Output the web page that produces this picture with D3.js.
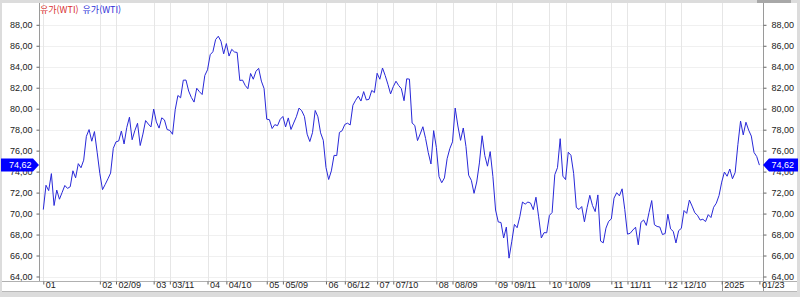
<!DOCTYPE html>
<html lang="ko">
	<head>
		<meta charset="utf-8">
		<title>유가(WTI)</title>
		<script src="https://d3js.org/d3.v7.min.js"></script>
		<style type="text/css">
			body { margin: 0; background: #dcdcdc; }
			svg { display: block; }
			.axis text { font-family: "Liberation Sans", Arial, sans-serif; font-size: 9px; fill: #222; }
			.axis line { stroke: #666; }
			.axis path { display: none; }
		</style>
	</head>
	<body>
		<script type="text/javascript">

			const w = 800;
			const h = 297;

			// closing prices, one array per month (trading days)
			const jan24 = [70.38, 72.70, 72.19, 73.81, 70.77, 72.24, 71.37, 72.02, 72.68, 72.40, 72.56, 74.08, 73.41, 74.76, 74.37, 75.09, 77.36, 78.01, 76.90, 77.82, 75.85];
			const feb24 = [73.82, 72.28, 72.78, 73.31, 73.86, 76.22, 76.84, 76.92, 77.87, 76.64, 78.20, 79.19, 77.04, 77.91, 78.61, 76.49, 77.58, 78.87, 78.54, 78.26];
			const mar24 = [79.97, 78.74, 78.15, 79.13, 78.93, 78.01, 77.93, 77.56, 79.90, 81.26, 81.04, 82.72, 82.73, 81.68, 81.07, 80.63, 81.95, 81.62, 81.35, 83.17];
			const apr24 = [83.71, 85.15, 85.43, 86.59, 86.91, 86.43, 85.23, 86.21, 85.02, 85.66, 85.41, 85.36, 82.69, 82.73, 82.22, 81.90, 83.36, 82.81, 83.57, 83.85, 82.63, 81.93];
			const may24 = [79.00, 78.95, 78.11, 78.48, 78.38, 78.99, 79.26, 78.26, 79.12, 78.02, 78.63, 79.23, 80.06, 79.80, 79.26, 77.57, 76.87, 77.72, 79.83, 79.23, 77.70, 76.99];
			const jun24 = [74.40, 73.25, 74.07, 75.55, 75.53, 77.74, 77.90, 78.50, 78.62, 78.45, 80.33, 80.80, 81.20, 80.73, 81.63, 80.83, 80.90, 81.74, 81.54];
			const jul24 = [83.38, 82.81, 83.88, 83.16, 82.33, 81.41, 82.10, 82.62, 82.21, 81.91, 80.76, 82.85, 82.82, 78.63, 78.40, 76.96, 77.59, 78.28, 77.16, 75.81, 74.73, 77.91];
			const aug24 = [76.31, 73.52, 72.94, 73.40, 75.23, 76.19, 76.84, 80.06, 78.35, 76.98, 78.16, 76.40, 73.66, 73.17, 71.93, 73.01, 74.83, 77.42, 75.53, 74.52, 75.91, 73.55];
			const sep24 = [70.34, 69.20, 69.15, 67.67, 68.71, 65.75, 67.31, 68.97, 68.65, 69.70, 71.10, 70.90, 71.10, 71.00, 70.37, 71.56, 69.69, 67.67, 68.18, 68.17];
			const oct24 = [69.83, 70.10, 73.71, 74.38, 77.14, 73.57, 73.24, 75.85, 75.56, 73.83, 70.58, 70.39, 70.67, 69.22, 70.56, 71.74, 70.77, 70.19, 71.78, 67.38, 67.21, 68.61, 69.26];
			const nov24 = [69.49, 71.47, 71.99, 71.69, 72.36, 70.38, 68.04, 68.12, 68.43, 68.70, 67.02, 69.16, 69.39, 68.87, 70.10, 71.24, 68.94, 68.77, 68.72, 68.00];
			const dec24 = [68.10, 69.94, 68.54, 68.30, 67.20, 68.37, 68.59, 70.29, 70.02, 71.29, 70.71, 70.08, 69.83, 69.38, 69.46, 69.24, 69.90, 69.62, 70.60, 70.99, 71.72];
			const jan25 = [73.00, 73.96, 73.56, 74.25, 73.32, 73.92, 76.57, 78.82, 77.50, 78.71, 77.96, 77.39, 75.83, 75.44, 74.62];

			// market holidays (no bar)
			const holidays = ["2024-01-01", "2024-01-15", "2024-02-19", "2024-03-29", "2024-05-27", "2024-06-19", "2024-07-04", "2024-09-02", "2024-11-28", "2024-12-25", "2025-01-01", "2025-01-20"];

			// x axis labels
			const tickDates = ["2024-01-02", "2024-02-01", "2024-02-09", "2024-03-01", "2024-03-11", "2024-04-01", "2024-04-10", "2024-05-01", "2024-05-09", "2024-06-03", "2024-06-12", "2024-07-01", "2024-07-10", "2024-08-01", "2024-08-09", "2024-09-03", "2024-09-11", "2024-10-01", "2024-10-09", "2024-11-01", "2024-11-11", "2024-12-02", "2024-12-10", "2025-01-02", "2025-01-23"];
			const tickLabels = ["01", "02", "02/09", "03", "03/11", "04", "04/10", "05", "05/09", "06", "06/12", "07", "07/10", "08", "08/09", "09", "09/11", "10", "10/09", "11", "11/11", "12", "12/10", "2025", "01/23"];

			const yTicks = [64, 66, 68, 70, 72, 74, 76, 78, 80, 82, 84, 86, 88];
			const lastValue = 74.62;

			const values = [].concat(jan24, feb24, mar24, apr24, may24, jun24, jul24, aug24, sep24, oct24, nov24, dec24, jan25);

			const fmt = d3.utcFormat("%Y-%m-%d");
			const days = d3.utcDays(new Date(Date.UTC(2024, 0, 2)), new Date(Date.UTC(2025, 0, 24)))
				.filter(d => d.getUTCDay() !== 0 && d.getUTCDay() !== 6)
				.map(fmt)
				.filter(d => holidays.indexOf(d) < 0);

			const dataset = days.map((d, i) => [d, values[i]]);

			const padL = 39, padR = 763, plotTop = 3, plotBottom = 281;

			const xScale = d3.scalePoint()
				.domain(days)
				.range([43.3, 759.4]);

			const yScale = d3.scaleLinear()
				.domain([64, 88])
				.range([276.5, 24.8]);

			const fmtY = d => d.toFixed(2).replace(".", ",");

			const svg = d3.select("body")
				.append("svg")
				.attr("width", w)
				.attr("height", h);

			// frame
			svg.append("rect").attr("x", 0).attr("y", 0).attr("width", w).attr("height", h).attr("fill", "#dcdcdc");
			svg.append("rect").attr("x", 2).attr("y", plotTop).attr("width", 795).attr("height", 289).attr("fill", "#ffffff");
			svg.append("rect").attr("x", 757).attr("y", 0).attr("width", 34).attr("height", 3).attr("fill", "#a8a8a8");

			// grid
			svg.append("g")
				.selectAll("line")
				.data(yTicks)
				.enter()
				.append("line")
				.attr("x1", padL).attr("x2", padR)
				.attr("y1", d => Math.round(yScale(d)) + 0.5)
				.attr("y2", d => Math.round(yScale(d)) + 0.5)
				.attr("stroke", "#f0f0f0");

			svg.append("g")
				.selectAll("line")
				.data(tickDates.slice(0, -1))
				.enter()
				.append("line")
				.attr("x1", d => Math.round(xScale(d)) + 0.5)
				.attr("x2", d => Math.round(xScale(d)) + 0.5)
				.attr("y1", plotTop).attr("y2", plotBottom)
				.attr("stroke", "#e6e6e6");

			// axes frame lines
			svg.append("line").attr("x1", padL + 0.5).attr("x2", padL + 0.5).attr("y1", plotTop).attr("y2", plotBottom).attr("stroke", "#9a9a9a");
			svg.append("line").attr("x1", padR + 0.5).attr("x2", padR + 0.5).attr("y1", plotTop).attr("y2", 292).attr("stroke", "#9a9a9a");
			svg.append("line").attr("x1", 2).attr("x2", 797).attr("y1", plotBottom + 0.5).attr("y2", plotBottom + 0.5).attr("stroke", "#b0b0b0");
			svg.append("line").attr("x1", 2).attr("x2", 797).attr("y1", 291.5).attr("y2", 291.5).attr("stroke", "#b8b8b8");
			svg.append("line")
				.attr("x1", Math.round(xScale("2025-01-02")) + 0.5)
				.attr("x2", Math.round(xScale("2025-01-02")) + 0.5)
				.attr("y1", plotBottom).attr("y2", 291)
				.attr("stroke", "#9a9a9a");

			const yAxisL = d3.axisLeft(yScale).tickValues(yTicks).tickFormat(fmtY).tickSize(3).tickPadding(4);
			const yAxisR = d3.axisRight(yScale).tickValues(yTicks).tickFormat(fmtY).tickSize(3).tickPadding(5);

			svg.append("g")
				.attr("class", "axis")
				.attr("transform", "translate(" + (padL + 0.5) + ",0)")
				.call(yAxisL);

			svg.append("g")
				.attr("class", "axis")
				.attr("transform", "translate(" + (padR + 0.5) + ",0)")
				.call(yAxisR);

			const xAxis = d3.axisBottom(xScale)
				.tickValues(tickDates)
				.tickFormat((d, i) => tickLabels[i])
				.tickSize(3);

			const gx = svg.append("g")
				.attr("class", "axis")
				.attr("transform", "translate(0," + (plotBottom + 0.5) + ")")
				.call(xAxis);
			gx.selectAll("text")
				.attr("text-anchor", "start")
				.attr("x", 2)
				.attr("y", 0)
				.attr("dy", "0.75em");

			// price line
			const line = d3.line()
				.x(d => xScale(d[0]))
				.y(d => yScale(d[1]));

			svg.append("path")
				.datum(dataset)
				.attr("fill", "none")
				.attr("stroke", "#2828d8")
				.attr("stroke-width", 1)
				.attr("d", line);

			// legend
			const legend = svg.append("text")
				.attr("x", 40)
				.attr("y", 13)
				.attr("font-family", "'Noto Sans CJK KR', sans-serif")
				.attr("font-size", "9px");
			legend.append("tspan").attr("fill", "#d83030").text("유가(WTI)");
			legend.append("tspan").attr("fill", "#3030d8").attr("dx", 4).text("유가(WTI)");

			// current value markers
			const yc = yScale(lastValue);
			svg.append("path")
				.attr("fill", "#0000ff")
				.attr("d", "M1," + (yc - 6.5) + "H33L" + padL + "," + yc + "L33," + (yc + 6.5) + "H1Z");
			svg.append("path")
				.attr("fill", "#0000ff")
				.attr("d", "M" + padR + "," + yc + "L769," + (yc - 6.5) + "H798V" + (yc + 6.5) + "H769Z");

			svg.append("text")
				.attr("x", 31.5).attr("y", yc).attr("dy", "0.35em")
				.attr("text-anchor", "end")
				.attr("font-family", "'Liberation Sans', Arial, sans-serif")
				.attr("font-size", "9px")
				.attr("fill", "#ffffff")
				.text(fmtY(lastValue));
			svg.append("text")
				.attr("x", 771.5).attr("y", yc).attr("dy", "0.35em")
				.attr("font-family", "'Liberation Sans', Arial, sans-serif")
				.attr("font-size", "9px")
				.attr("fill", "#ffffff")
				.text(fmtY(lastValue));

		</script>
	</body>
</html>
